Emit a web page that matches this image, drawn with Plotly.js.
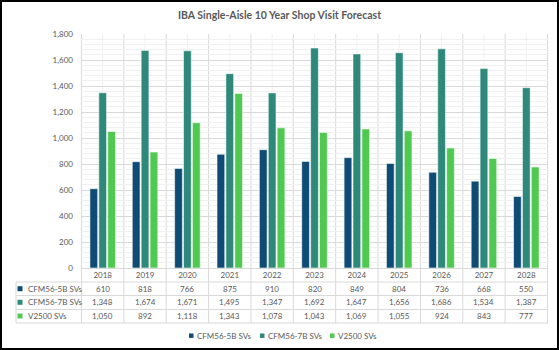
<!DOCTYPE html>
<html><head><meta charset="utf-8">
<script src="https://cdn.plot.ly/plotly-3.0.1.min.js"></script>
<style>
html,body{margin:0;padding:0;background:#fff}
#wrap{position:relative;width:559px;height:350px}
#chart{width:559px;height:350px}
#frame{position:absolute;left:0;top:0;width:559px;height:350px;box-sizing:border-box;border:2px solid #000;pointer-events:none}
</style>
</head><body>
<div id="wrap"><div id="chart"></div><div id="frame"></div></div>
<script>
const years = ['2018','2019','2020','2021','2022','2023','2024','2025','2026','2027','2028'];
const seriesNames = ['CFM56-5B SVs','CFM56-7B SVs','V2500 SVs'];
const cfm565b = [610,818,766,875,910,820,849,804,736,668,550];
const cfm567b = [1348,1674,1671,1495,1347,1692,1647,1656,1686,1534,1387];
const v2500 = [1050,892,1118,1343,1078,1043,1069,1055,924,843,777];
const titleText = 'IBA Single-Aisle 10 Year Shop Visit Forecast';

const seriesValues = [cfm565b, cfm567b, v2500];
const colors = ['#0f4c75','#2e897b','#4fc94f'];
const FONT = 'Lato, "Open Sans", sans-serif';
const TXT = '#595959';
const GRID = '#d9d9d9';
const MINOR = '#f0f0f0';

// pixel geometry of plot area
const L = 81, R = 548, T = 34, B = 268;
const px = x => (x - L) / (R - L);
const py = y => (B - y) / (B - T);

const traces = seriesValues.map((vals, k) => ({
  type: 'bar', x: years, y: vals, name: seriesNames[k],
  marker: {color: colors[k], line: {color: 'rgba(255,255,255,0.55)', width: 1}},
  showlegend: false, hoverinfo: 'skip'
}));

const shapes = [];
const annotations = [];
const rowLines = [282, 295.5, 309.5, 323];
const rowCenters = [288.7, 302.3, 316];

// vertical lines: category boundaries through plot and table; minor at centers
for (let i = 0; i <= years.length; i++) {
  shapes.push({type:'line', layer:'below', xref:'x', yref:'paper', x0:i-0.5, x1:i-0.5, y0:py(323), y1:1, line:{color:GRID, width:1}});
}
for (let i = 0; i < years.length; i++) {
  shapes.push({type:'line', layer:'below', xref:'x', yref:'paper', x0:i, x1:i, y0:0, y1:1, line:{color:MINOR, width:1}});
}
// table horizontal lines
rowLines.forEach(y => shapes.push({type:'line', xref:'paper', yref:'paper', x0:px(16), x1:1, y0:py(y), y1:py(y), line:{color:GRID, width:1}}));
shapes.push({type:'line', xref:'paper', yref:'paper', x0:px(16), x1:px(16), y0:py(282), y1:py(323), line:{color:GRID, width:1}});

// table row labels + values
seriesValues.forEach((vals, k) => {
  const yc = py(rowCenters[k]);
  shapes.push({type:'rect', xref:'paper', yref:'paper', x0:px(17.5), x1:px(22.5), y0:yc-2.5/(B-T), y1:yc+2.5/(B-T), fillcolor:colors[k], line:{width:0}});
  annotations.push({xref:'paper', yref:'paper', x:px(25.5), y:yc, xanchor:'left', yanchor:'middle', showarrow:false, text:seriesNames[k], font:{family:FONT, size:8, color:TXT}});
  vals.forEach((v, i) => {
    annotations.push({xref:'x', yref:'paper', x:i, y:yc, xanchor:'center', yanchor:'middle', showarrow:false, text:v.toLocaleString('en-US'), font:{family:FONT, size:8, color:TXT}});
  });
});

// bottom legend
const legendX = [189, 260, 330];
const ly = py(335.7);
seriesNames.forEach((n, k) => {
  shapes.push({type:'rect', xref:'paper', yref:'paper', x0:px(legendX[k]), x1:px(legendX[k]+4.5), y0:ly-2.25/(B-T), y1:ly+2.25/(B-T), fillcolor:colors[k], line:{width:0}});
  annotations.push({xref:'paper', yref:'paper', x:px(legendX[k]+6), y:ly, xanchor:'left', yanchor:'middle', showarrow:false, text:n, font:{family:FONT, size:8, color:TXT}});
});

const layout = {
  width: 559, height: 350, autosize: false,
  margin: {l: L, r: 559 - R, t: T, b: 350 - B, pad: 0},
  paper_bgcolor: '#fff', plot_bgcolor: '#fff',
  font: {family: FONT, size: 8, color: TXT},
  title: {text: '<b>' + titleText + '</b>', x: 0.5, xanchor: 'center', y: 1 - 15/350, yanchor: 'middle', font: {family: FONT, size: 10.5, color: TXT}},
  barmode: 'group', bargap: 0.37, bargroupgap: 0.13,
  xaxis: {type: 'category', showgrid: false, zeroline: false, showline: false, ticks: '', tickfont: {family: FONT, size: 8, color: TXT}, ticklabelstandoff: 1, fixedrange: true},
  yaxis: {range: [0, 1800], dtick: 200, tickformat: ',', showgrid: true, gridcolor: GRID, gridwidth: 1,
          minor: {dtick: 40, showgrid: true, gridcolor: MINOR, gridwidth: 1},
          zeroline: true, zerolinecolor: GRID, zerolinewidth: 1, showline: false, ticks: '',
          tickfont: {family: FONT, size: 8, color: TXT}, ticklabelstandoff: 7, fixedrange: true},
  shapes: shapes, annotations: annotations
};

Plotly.newPlot('chart', traces, layout, {staticPlot: true, displayModeBar: false});
</script>
</body></html>
